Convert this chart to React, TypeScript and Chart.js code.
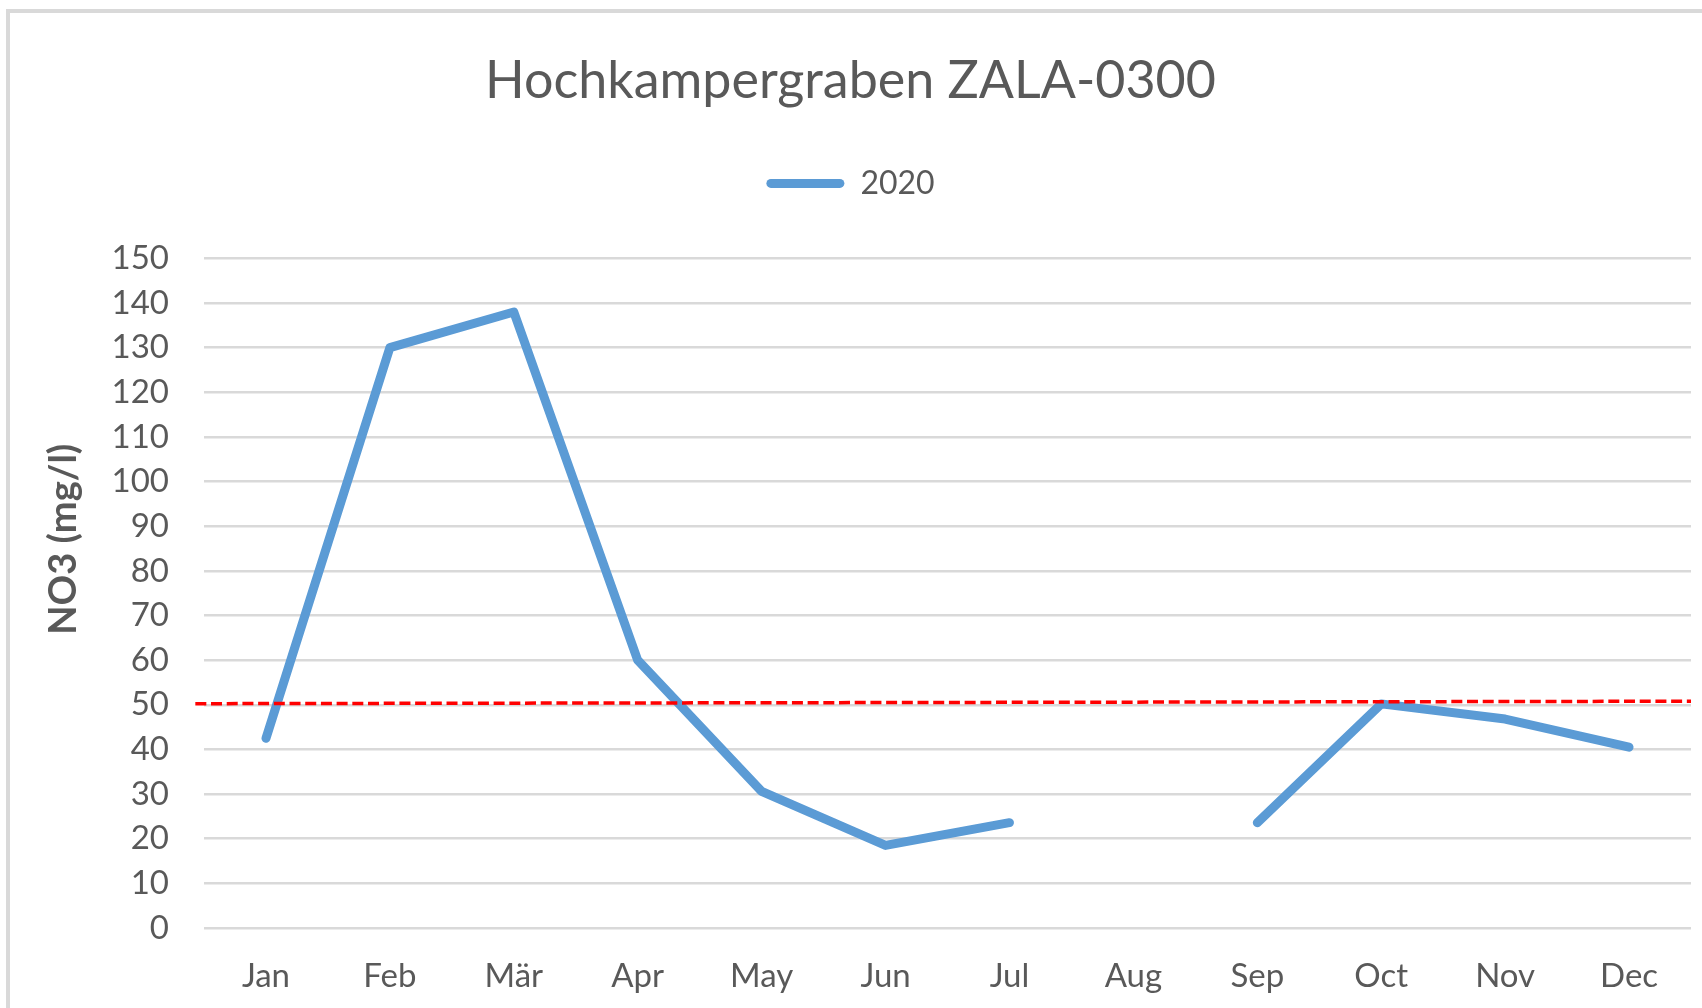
import React, { useEffect, useRef } from "react";
import { Chart, registerables } from "chart.js";

Chart.register(...registerables);

const TITLE = "Hochkampergraben ZALA-0300";
const SERIES_LABEL = "2020";
const Y_AXIS_TITLE = "NO3 (mg/l)";
const MONTHS = ["Jan", "Feb", "Mär", "Apr", "May", "Jun", "Jul", "Aug", "Sep", "Oct", "Nov", "Dec"];
const NO3_2020: (number | null)[] = [42.5, 130, 138, 60, 30.6, 18.5, 23.6, null, 23.6, 50.2, 46.8, 40.5];
const Y_MIN = 0;
const Y_MAX = 150;
const Y_STEP = 10;
// threshold line (drawn in the original as a slightly tilted dashed line near 50 mg/l)
const THRESHOLD_X = [-0.57, 11.5];
const THRESHOLD_Y = [50.25, 50.8];

const FONT = "Lato, 'Open Sans', sans-serif";
const TEXT = "#595959";
const BLUE = "#5B9BD5";

const thresholdPlugin = {
  id: "threshold",
  afterDatasetsDraw(chart: any) {
    const { ctx, scales } = chart;
    const x = scales.x;
    const y = scales.y;
    ctx.save();
    ctx.strokeStyle = "#FF0000";
    ctx.lineWidth = 3.5;
    ctx.setLineDash([11, 4.7]);
    ctx.beginPath();
    ctx.moveTo(x.getPixelForValue(THRESHOLD_X[0]), y.getPixelForValue(THRESHOLD_Y[0]));
    ctx.lineTo(x.getPixelForValue(THRESHOLD_X[1]), y.getPixelForValue(THRESHOLD_Y[1]));
    ctx.stroke();
    ctx.restore();
  },
};

// y-axis title, placed like the original (slightly above the plot's middle)
const axisTitlePlugin = {
  id: "axisTitle",
  afterDraw(chart: any) {
    const { ctx, scales } = chart;
    const y = scales.y;
    ctx.save();
    ctx.translate(y.left + 54, (y.top + y.bottom) / 2 - 54);
    ctx.rotate(-Math.PI / 2);
    ctx.fillStyle = TEXT;
    ctx.font = `bold 38px ${FONT}`;
    ctx.textAlign = "center";
    ctx.textBaseline = "middle";
    ctx.fillText(Y_AXIS_TITLE, 0, 0);
    ctx.restore();
  },
};

export default function App() {
  const ref = useRef<HTMLCanvasElement>(null);

  useEffect(() => {
    if (!ref.current) return;
    const chart = new Chart(ref.current, {
      type: "line",
      data: {
        labels: MONTHS,
        datasets: [
          {
            label: SERIES_LABEL,
            data: NO3_2020,
            borderColor: BLUE,
            backgroundColor: BLUE,
            borderWidth: 9,
            borderCapStyle: "round",
            borderJoinStyle: "round",
            pointRadius: 0,
            pointHoverRadius: 0,
            tension: 0,
            spanGaps: false,
          },
        ],
      },
      options: {
        animation: false,
        responsive: false,
        maintainAspectRatio: false,
        layout: { padding: { top: 0, left: 10, right: 11, bottom: 0 } },
        plugins: {
          title: {
            display: true,
            text: TITLE,
            color: TEXT,
            font: { family: FONT, size: 52, weight: "normal" },
            padding: { top: 50, bottom: 45 },
          },
          subtitle: {
            display: true,
            text: "",
            weight: 500,
            font: { family: FONT, size: 10 },
            padding: { top: 37, bottom: 0 },
          } as any,
          legend: {
            display: true,
            position: "top",
            labels: {
              boxWidth: 78,
              boxHeight: 9,
              padding: 10,
              color: TEXT,
              font: { family: FONT, size: 32 },
              useBorderRadius: true,
              borderRadius: 4.5,
              generateLabels: () => [
                {
                  text: SERIES_LABEL,
                  fillStyle: BLUE,
                  strokeStyle: BLUE,
                  lineWidth: 0,
                  hidden: false,
                  datasetIndex: 0,
                  fontColor: TEXT,
                  borderRadius: 4.5,
                } as any,
              ],
            },
          },
          tooltip: { enabled: false },
        },
        scales: {
          x: {
            type: "category",
            offset: true,
            grid: { display: false, drawTicks: false },
            border: { display: false },
            ticks: {
              color: TEXT,
              font: { family: FONT, size: 33 },
              padding: 29,
              maxRotation: 0,
              autoSkip: false,
            },
            afterFit: (scale: any) => {
              scale.height = 80;
            },
          },
          y: {
            min: Y_MIN,
            max: Y_MAX,
            grid: { color: "#D9D9D9", lineWidth: 2.5, drawTicks: false },
            border: { display: false },
            ticks: {
              stepSize: Y_STEP,
              color: TEXT,
              font: { family: FONT, size: 33 },
              padding: 35,
            },
            afterFit: (scale: any) => {
              scale.width = 194;
            },
          },
        },
      },
      plugins: [thresholdPlugin, axisTitlePlugin],
    });
    return () => chart.destroy();
  }, []);

  return (
    <div
      style={{
        position: "fixed",
        left: 0,
        top: 0,
        width: 1702,
        height: 1008,
        background: "#ffffff",
        overflow: "hidden",
      }}
    >
      <div
        style={{
          position: "absolute",
          left: 6,
          top: 9,
          width: 2000,
          height: 2000,
          borderTop: "4px solid #D9D9D9",
          borderLeft: "4px solid #D9D9D9",
        }}
      />
      <canvas
        ref={ref}
        width={1702}
        height={1008}
        style={{ position: "absolute", left: 0, top: 0, width: 1702, height: 1008 }}
      />
    </div>
  );
}
